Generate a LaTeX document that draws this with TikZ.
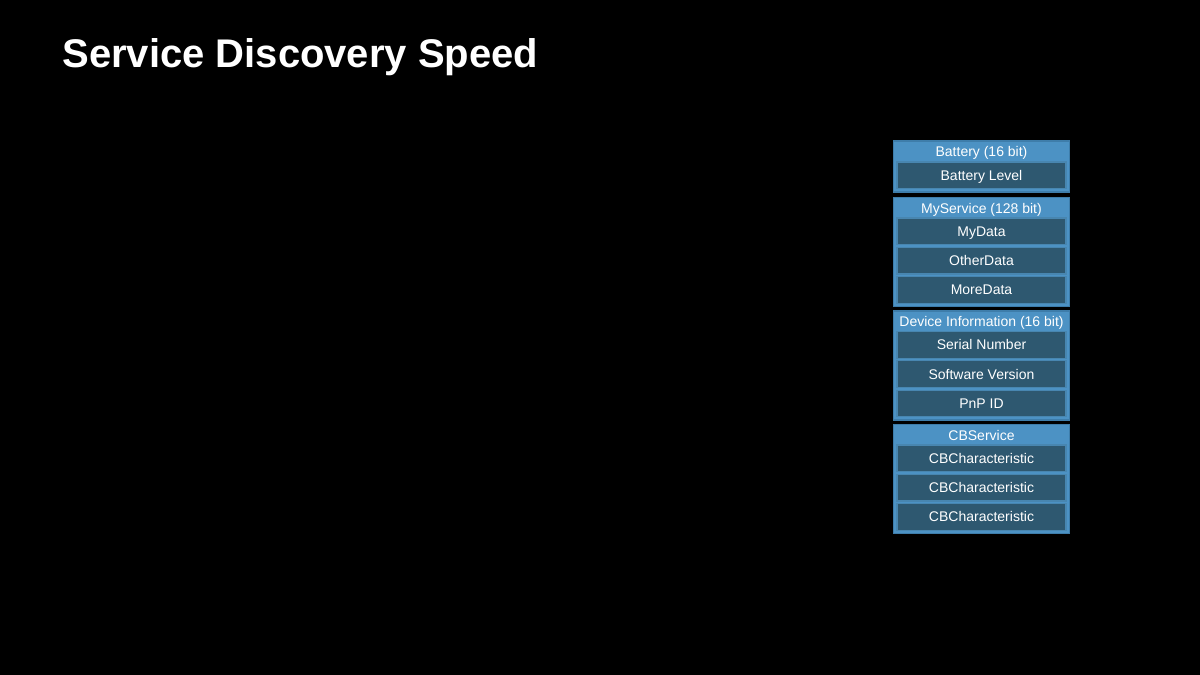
\documentclass[tikz,border=0pt]{standalone}
\usepackage{fontspec}
\setmainfont{Liberation Sans}
\definecolor{svcfill}{RGB}{76,146,196}
\definecolor{svcline}{RGB}{62,125,170}
\definecolor{rowfill}{RGB}{46,88,112}
\definecolor{rowline}{RGB}{72,134,176}
\begin{document}
\begin{tikzpicture}[x=0.5pt,y=-0.5pt,
  svcbox/.style={draw=svcline,fill=svcfill,line width=0.8pt,minimum width=88pt,inner sep=0pt,outer sep=0pt},
  rowbox/.style={draw=rowline,fill=rowfill,line width=0.6pt,minimum width=84.5pt,minimum height=13.3pt,inner sep=0pt,
    text=white,font=\fontsize{7}{8}\selectfont,text height=5pt,text depth=0pt},
  hdr/.style={inner sep=0pt,text=white,font=\fontsize{7}{8}\selectfont,text height=5pt,text depth=0pt},
  titlestyle/.style={inner sep=0pt,anchor=base west,text=white,font=\fontsize{20}{24}\selectfont\bfseries}]
\fill[black] (0,0) rectangle (1200,675);
\useasboundingbox (0,0) rectangle (1200,675);
\node[titlestyle] (title) at (62,67) {Service Discovery Speed};
% Battery
\node[svcbox,minimum height=25.5pt] (b1) at (981.5,166.5) {};
\node[hdr] (b1h) at (981.5,151.7) {Battery (16 bit)};
\node[rowbox] (b1r1) at (981.5,175.2) {Battery Level};
% MyService
\node[svcbox,minimum height=54.5pt] (b2) at (981.5,252) {};
\node[hdr] (b2h) at (981.5,208.2) {MyService (128 bit)};
\node[rowbox] (b2r1) at (981.5,231.3) {MyData};
\node[rowbox] (b2r2) at (981.5,260.6) {OtherData};
\node[rowbox] (b2r3) at (981.5,289.9) {MoreData};
% Device Information
\node[svcbox,minimum height=54.5pt] (b3) at (981.5,365.5) {};
\node[hdr] (b3h) at (981.5,321.7) {Device Information (16 bit)};
\node[rowbox] (b3r1) at (981.5,344.8) {Serial Number};
\node[rowbox] (b3r2) at (981.5,374.1) {Software Version};
\node[rowbox] (b3r3) at (981.5,403.4) {PnP ID};
% CBService
\node[svcbox,minimum height=54.5pt] (b4) at (981.5,479) {};
\node[hdr] (b4h) at (981.5,435.2) {CBService};
\node[rowbox] (b4r1) at (981.5,458.3) {CBCharacteristic};
\node[rowbox] (b4r2) at (981.5,487.6) {CBCharacteristic};
\node[rowbox] (b4r3) at (981.5,516.9) {CBCharacteristic};
\end{tikzpicture}
\end{document}
